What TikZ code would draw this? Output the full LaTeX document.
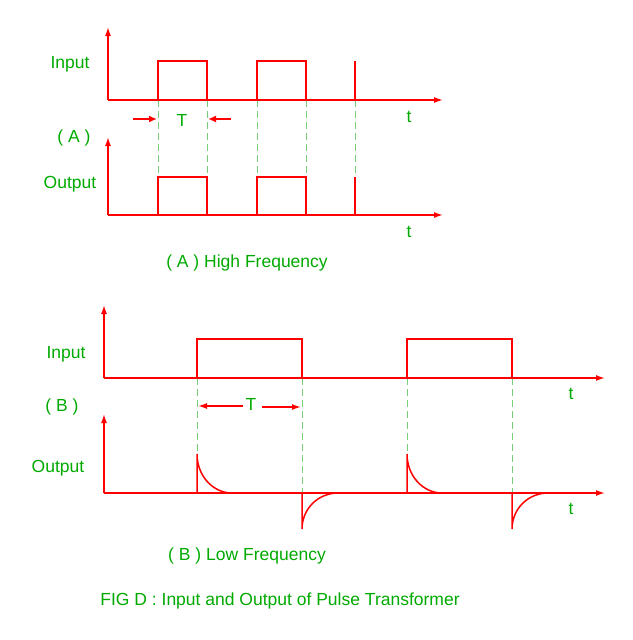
\documentclass[tikz,border=0pt]{standalone}
\usepackage{fontspec}
\setmainfont{Liberation Sans}
\usetikzlibrary{arrows.meta}
\definecolor{sigred}{RGB}{255,0,0}
\definecolor{lblgreen}{RGB}{0,170,0}
\definecolor{dashgreen}{RGB}{120,205,120}
\tikzset{
  wave/.style={sigred, line width=1.5pt},
  axis/.style={wave, -{Latex[length=9pt,width=6pt]}},
  tarrow/.style={sigred, line width=2.5pt, -{Latex[length=8pt,width=7pt]}},
  guide/.style={dashgreen, line width=0.9pt, dash pattern=on 7pt off 4pt},
  lbl/.style={lblgreen, font=\fontsize{17.5}{20}\selectfont},
}
\begin{document}
\begin{tikzpicture}[x=1pt,y=-1pt]
  \useasboundingbox (0,0) rectangle (632,640);
  % (A) high frequency
  \foreach \x in {158,207,257,306,355}
    \draw[guide] (\x,100) -- (\x,177);
  \coordinate (OA1) at (108,100); \coordinate (OA2) at (108,215);
  \draw[axis] (OA1) -- (108,27);  \draw[axis] (OA1) -- (443,100);
  \draw[axis] (OA2) -- (108,137); \draw[axis] (OA2) -- (443,215);
  \foreach \x in {158,257} {
    \draw[wave] (\x,100) |- (\x+49,61) -- (\x+49,100);
    \draw[wave] (\x,215) |- (\x+49,177) -- (\x+49,215);
  }
  \draw[wave] (355,100) -- (355,61) (355,215) -- (355,177);
  \draw[tarrow] (133,119) -- (157,119);
  \draw[tarrow] (231,119) -- (208,119);
  \node[lbl] (inA) at (70,64) {Input};
  \node[lbl] (outA) at (70,184) {Output};
  \node[lbl] (tagA) at (74,138) {( A )};
  \node[lbl] (TA) at (182,120) {T};
  \node[lbl] (tA1) at (409,117) {t};
  \node[lbl] (tA2) at (409,232) {t};
  \node[lbl] (capA) at (247,263) {( A ) High Frequency};
  % (B) low frequency
  \foreach \x in {197,302,407,512}
    \draw[guide] (\x,378) -- (\x,493);
  \coordinate (OB1) at (104,378); \coordinate (OB2) at (104,493);
  \draw[axis] (OB1) -- (104,305); \draw[axis] (OB1) -- (605,378);
  \draw[axis] (OB2) -- (104,414); \draw[axis] (OB2) -- (605,493);
  \foreach \x in {197,407} {
    \draw[wave] (\x,378) |- (\x+105,339) -- (\x+105,378);
    \draw[wave] (\x,493) -- (\x,454)
      .. controls (\x,475.5) and (\x+15.7,493) .. (\x+35,493);
    \draw[wave] (\x+105,493) -- (\x+105,529)
      .. controls (\x+105,509) and (\x+121,493) .. (\x+141,493);
  }
  \draw[axis] (243,406) -- (198,406);
  \draw[axis] (262,407) -- (301,407);
  \node[lbl] (inB) at (66,354) {Input};
  \node[lbl] (outB) at (58,468) {Output};
  \node[lbl] (tagB) at (62,407) {( B )};
  \node[lbl] (TB) at (251,404) {T};
  \node[lbl] (tB1) at (571,394) {t};
  \node[lbl] (tB2) at (571,509) {t};
  \node[lbl] (capB) at (247,556) {( B ) Low Frequency};
  \node[lbl] (fig) at (280,601) {FIG D : Input and Output of Pulse Transformer};
\end{tikzpicture}
\end{document}
